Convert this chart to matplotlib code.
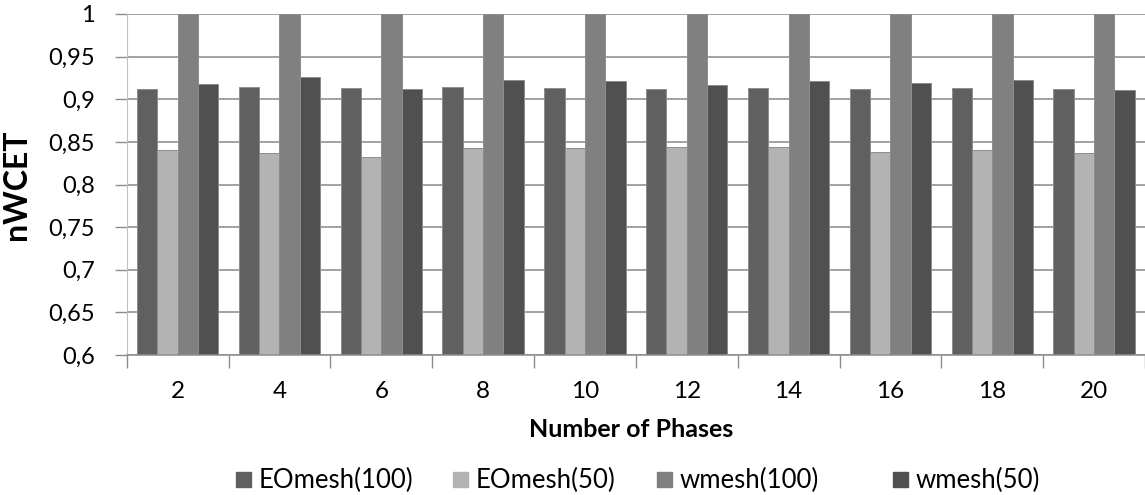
import numpy as np
import matplotlib
matplotlib.use("Agg")
import matplotlib.pyplot as plt
from matplotlib.patches import Rectangle

plt.rcParams["font.family"] = ["Lato", "DejaVu Sans"]

# ── data ──
phases = ["2", "4", "6", "8", "10", "12", "14", "16", "18", "20"]
series = ["EOmesh(100)", "EOmesh(50)", "wmesh(100)", "wmesh(50)"]
eomesh_100 = [0.912, 0.914, 0.913, 0.914, 0.913, 0.912, 0.913, 0.912, 0.913, 0.912]
eomesh_50 = [0.840, 0.837, 0.832, 0.843, 0.843, 0.844, 0.844, 0.838, 0.840, 0.837]
wmesh_100 = [1.0, 1.0, 1.0, 1.0, 1.0, 1.0, 1.0, 1.0, 1.0, 1.0]
wmesh_50 = [0.918, 0.926, 0.912, 0.923, 0.921, 0.917, 0.921, 0.919, 0.923, 0.911]
values = [eomesh_100, eomesh_50, wmesh_100, wmesh_50]
colors = ["#606060", "#b3b3b3", "#808080", "#505050"]

W, H = 1145, 495
fig = plt.figure(figsize=(W / 100, H / 100), dpi=100)
ax = fig.add_axes([126.7 / W, 1 - 355 / H, (W - 126.7) / W, (355 - 14) / H])

x = np.arange(len(phases))
width = 0.2
for i, (vals, col) in enumerate(zip(values, colors)):
    ax.bar(x + (i - 1.5) * width, vals, width, color=col,
           edgecolor="#8c8c8c", linewidth=0.7, zorder=2)

ax.set_xlim(-0.5, len(phases) - 0.5)
ax.set_ylim(0.6, 1.0)
yt = [round(v, 2) for v in np.arange(0.6, 1.0001, 0.05)]
ax.set_yticks(yt)
ax.set_yticklabels([f"{v:g}".replace(".", ",") for v in yt], fontsize=17)
ax.set_xticks(x)
ax.set_xticklabels(phases, fontsize=17.5)
ax.set_xticks(np.arange(-0.5, len(phases)), minor=True)
ax.tick_params(axis="x", which="major", length=0, pad=19)
ax.tick_params(axis="x", which="minor", length=9, color="#8c8c8c", width=1)
ax.tick_params(axis="y", length=9, color="#8c8c8c", width=1, pad=14)

ax.grid(axis="y", color="#878787", linewidth=1.1, zorder=0)
ax.set_axisbelow(True)
for s in ["top", "right"]:
    ax.spines[s].set_visible(False)
ax.spines["left"].set_color("#c0c0c0")
ax.spines["bottom"].set_color("#8c8c8c")
ax.spines["bottom"].set_linewidth(1.1)

ax.set_xlabel("Number of Phases", fontsize=18, fontweight="bold")
ax.xaxis.set_label_coords(0.495, -0.185)
ax.set_ylabel("nWCET", fontsize=23, fontweight="bold")
ax.yaxis.set_label_coords(-0.094, 0.5)

# legend along the bottom
leg_x = [236, 453, 657, 893]
for lx, name, col in zip(leg_x, series, colors):
    fig.add_artist(Rectangle((lx / W, 1 - 487 / H), 15 / W, 15 / H,
                             transform=fig.transFigure, color=col))
    fig.text((lx + 23) / W, 1 - 480 / H, name, fontsize=18.5, va="center", ha="left")

fig.savefig("out.png", dpi=100)
